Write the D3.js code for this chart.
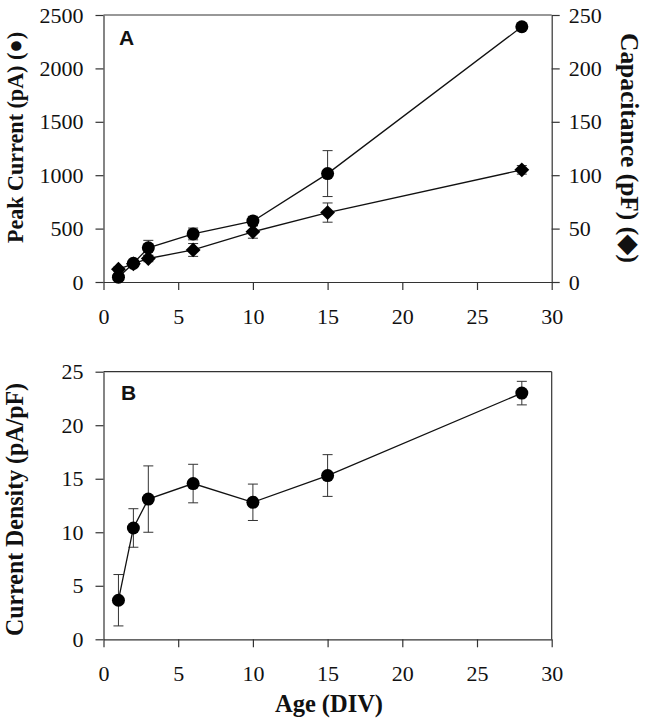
<!DOCTYPE html>
<html>
<head>
<meta charset="utf-8">
<script src="https://cdn.jsdelivr.net/npm/d3@7"></script>
<style>
  html, body { margin: 0; padding: 0; background: #fff; }
  svg { display: block; }
</style>
</head>
<body>
<script>
// ---- data ----
const days = [1, 2, 3, 6, 10, 15, 28];
const peakCurrent = [45, 175, 320, 450, 570, 1015, 2390];
const peakErr = [30, 20, 70, 55, 45, 215, 20];
const capacitance = [12, 17, 22, 30, 47, 65, 105];
const capErr = [2, 2, 3, 6, 6, 9, 4];
const density = [3.65, 10.4, 13.1, 14.55, 12.8, 15.3, 23.0];
const densityErr = [2.4, 1.8, 3.1, 1.8, 1.7, 1.95, 1.1];
const xTicks = [0, 5, 10, 15, 20, 25, 30];
const peakTicks = [0, 500, 1000, 1500, 2000, 2500];
const capTicks = [0, 50, 100, 150, 200, 250];
const densityTicks = [0, 5, 10, 15, 20, 25];

const W = 646, H = 719;
const svg = d3.select("body").append("svg").attr("width", W).attr("height", H);

const L = 103.5, R = 551.7;
const serif = "Liberation Serif";
const sans = "Liberation Sans";
const fmt = d3.format("d");

function styleAxis(g) {
  g.attr("font-family", serif).attr("font-size", 22);
  g.selectAll(".tick text").attr("fill", "#111")
    .attr("font-family", serif).attr("font-size", 22);
  g.selectAll(".domain, .tick line").attr("stroke", "#333").attr("stroke-width", 1.2);
}

function errorBars(g, x, y, xs, ys, es) {
  xs.forEach((d, i) => {
    const cx = x(d), y1 = y(ys[i] + es[i]), y0 = y(ys[i] - es[i]);
    g.append("line").attr("x1", cx).attr("x2", cx).attr("y1", y1).attr("y2", y0)
      .attr("stroke", "#333").attr("stroke-width", 1);
    [y1, y0].forEach(yy => g.append("line").attr("x1", cx - 5).attr("x2", cx + 5)
      .attr("y1", yy).attr("y2", yy).attr("stroke", "#333").attr("stroke-width", 1));
  });
}

function title(g, txt, x, y, rot, len, size) {
  const t = g.append("text")
    .attr("transform", `translate(${x},${y})` + (rot ? ` rotate(${rot})` : ""))
    .attr("text-anchor", "middle").attr("font-family", serif).attr("font-weight", "bold")
    .attr("font-size", size || 25).attr("fill", "#111").text(txt);
  if (len) t.attr("textLength", len).attr("lengthAdjust", "spacingAndGlyphs");
  return t;
}

// ---------- Panel A ----------
const xA = d3.scaleLinear().domain([0, 30]).range([L, R]);
const yA = d3.scaleLinear().domain([0, 2500]).range([282, 15]);
const yA2 = d3.scaleLinear().domain([0, 250]).range([282, 15]);
const gA = svg.append("g");

gA.append("g").attr("transform", "translate(0,282)")
  .call(d3.axisBottom(xA).tickValues(xTicks).tickFormat(fmt).tickSize(8).tickPadding(18).tickSizeOuter(0))
  .call(styleAxis);
gA.append("g").attr("transform", `translate(${L},0)`)
  .call(d3.axisLeft(yA).tickValues(peakTicks).tickFormat(fmt).tickSize(8).tickPadding(12).tickSizeOuter(0))
  .call(styleAxis);
gA.append("g").attr("transform", `translate(${R},0)`)
  .call(d3.axisRight(yA2).tickValues(capTicks).tickFormat(fmt).tickSize(8).tickPadding(9).tickSizeOuter(0))
  .call(styleAxis);
gA.append("line").attr("x1", L).attr("x2", R).attr("y1", 15).attr("y2", 15)
  .attr("stroke", "#333").attr("stroke-width", 1.2);

errorBars(gA, xA, yA, days, peakCurrent, peakErr);
errorBars(gA, xA, yA2, days, capacitance, capErr);

gA.append("path").datum(days.map((d, i) => [d, peakCurrent[i]]))
  .attr("d", d3.line().x(d => xA(d[0])).y(d => yA(d[1])))
  .attr("fill", "none").attr("stroke", "#111").attr("stroke-width", 1.3);
gA.append("path").datum(days.map((d, i) => [d, capacitance[i]]))
  .attr("d", d3.line().x(d => xA(d[0])).y(d => yA2(d[1])))
  .attr("fill", "none").attr("stroke", "#111").attr("stroke-width", 1.3);

gA.selectAll(".dia").data(days).enter().append("path")
  .attr("transform", (d, i) => `translate(${xA(d)},${yA2(capacitance[i])})`)
  .attr("d", d3.symbol().type(d3.symbolDiamond2).size(140))
  .attr("fill", "#000");
gA.selectAll(".circ").data(days).enter().append("circle")
  .attr("cx", d => xA(d)).attr("cy", (d, i) => yA(peakCurrent[i])).attr("r", 6.5)
  .attr("fill", "#000");

gA.append("text").attr("x", 119).attr("y", 45).text("A").attr("fill", "#111")
  .attr("font-family", sans).attr("font-weight", "bold").attr("font-size", 21);

title(gA, "Peak Current (pA) (●)", 23, 137.5, -90, 211, 24);
title(gA, "Capacitance (pF) (◆)", 621, 148, 90, 230, 25);

// ---------- Panel B ----------
const yB = d3.scaleLinear().domain([0, 25]).range([639.3, 371.7]);
const gB = svg.append("g");
gB.append("g").attr("transform", "translate(0,639.3)")
  .call(d3.axisBottom(xA).tickValues(xTicks).tickFormat(fmt).tickSize(8).tickPadding(18).tickSizeOuter(0))
  .call(styleAxis);
gB.append("g").attr("transform", `translate(${L},0)`)
  .call(d3.axisLeft(yB).tickValues(densityTicks).tickFormat(fmt).tickSize(8).tickPadding(12).tickSizeOuter(0))
  .call(styleAxis);
gB.append("line").attr("x1", L).attr("x2", R).attr("y1", 371.7).attr("y2", 371.7)
  .attr("stroke", "#333").attr("stroke-width", 1.2);
gB.append("line").attr("x1", R).attr("x2", R).attr("y1", 371.7).attr("y2", 639.3)
  .attr("stroke", "#333").attr("stroke-width", 1.2);

errorBars(gB, xA, yB, days, density, densityErr);
gB.append("path").datum(days.map((d, i) => [d, density[i]]))
  .attr("d", d3.line().x(d => xA(d[0])).y(d => yB(d[1])))
  .attr("fill", "none").attr("stroke", "#111").attr("stroke-width", 1.3);
gB.selectAll(".circ").data(days).enter().append("circle")
  .attr("cx", d => xA(d)).attr("cy", (d, i) => yB(density[i])).attr("r", 6.5)
  .attr("fill", "#000");

gB.append("text").attr("x", 121).attr("y", 400).text("B").attr("fill", "#111")
  .attr("font-family", sans).attr("font-weight", "bold").attr("font-size", 21);

title(gB, "Current Density (pA/pF)", 23, 509.5, -90, 253, 25);
title(gB, "Age (DIV)", 329, 712, 0, 108, 25);
</script>
</body>
</html>
